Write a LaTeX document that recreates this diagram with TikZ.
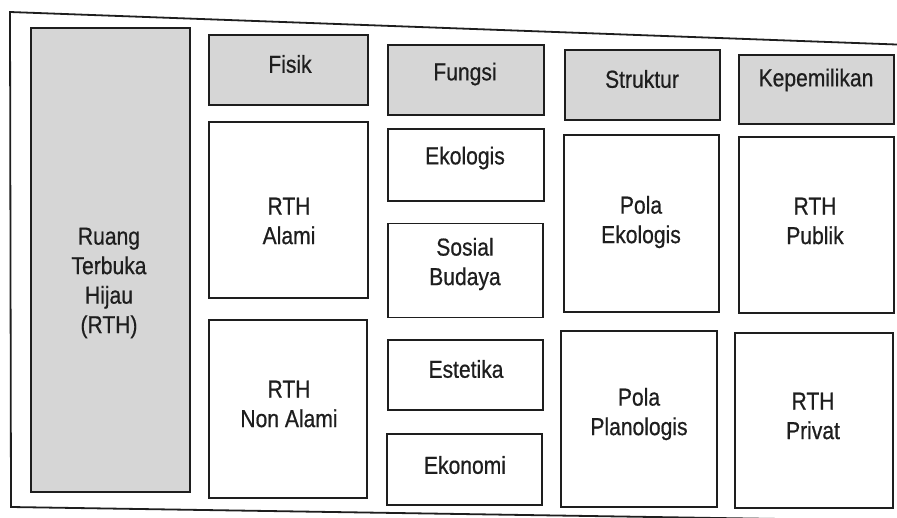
\documentclass[tikz,border=0pt]{standalone}
\usepackage{fontspec}
\setmainfont[FakeStretch=0.86,FakeBold=0.6]{Liberation Sans}
\definecolor{ink}{HTML}{1E1E1E}
\definecolor{hdrgray}{HTML}{D6D6D6}
\begin{document}
\begin{tikzpicture}[x=1pt,y=-1pt,
  frame/.style={draw=ink,line width=1.8pt},
  boxbase/.style={draw=ink,line width=1.8pt,inner sep=0pt,outer sep=0pt},
  hdr/.style={boxbase,fill=hdrgray},
  cell/.style={boxbase,fill=white},
  txt/.style={font=\fontsize{24.5}{29.5}\selectfont,text=ink,align=center,inner sep=0pt}]
\clip (0,0) rectangle (897,517);
\fill[white] (0,0) rectangle (897,517);
% outer frame (photographed slightly skewed)
\draw[frame] (10,12) -- (910,45) -- (910,521) -- (11,507) -- cycle;
% left column
\node[hdr, minimum width=159pt, minimum height=464pt] (rth) at (110.5,260) {};
\node[txt] (trth) at (109,283) {Ruang\\Terbuka\\Hijau\\(RTH)};
% Fisik
\node[hdr, minimum width=159pt, minimum height=70pt] (fisik) at (288.5,70) {};
\node[txt] (tfisik) at (290,64) {Fisik};
\node[cell, minimum width=159pt, minimum height=176pt] (alami) at (288.5,210) {};
\node[txt] (talami) at (289,221) {RTH\\Alami};
\node[cell, minimum width=158pt, minimum height=178pt] (nonalami) at (288,409) {};
\node[txt] (tnonalami) at (289,404) {RTH\\Non Alami};
% Fungsi
\node[hdr, minimum width=156pt, minimum height=70pt] (fungsi) at (466,80) {};
\node[txt] (tfungsi) at (465,74) {Fungsi};
\node[cell, minimum width=156pt, minimum height=72pt] (ekologis) at (466,165) {};
\node[txt] (tekologis) at (465,158) {Ekologis};
\node[cell, minimum width=155pt, minimum height=94pt] (sosial) at (465.5,270.5) {};
\node[txt] (tsosial) at (465,264) {Sosial\\Budaya};
\node[cell, minimum width=155pt, minimum height=70pt] (estetika) at (465.5,375) {};
\node[txt] (testetika) at (466,369) {Estetika};
\node[cell, minimum width=155pt, minimum height=71pt] (ekonomi) at (464.5,469.5) {};
\node[txt] (tekonomi) at (465,465) {Ekonomi};
% Struktur
\node[hdr, minimum width=155pt, minimum height=70pt] (struktur) at (642.5,85) {};
\node[txt] (tstruktur) at (642,79) {Struktur};
\node[cell, minimum width=155pt, minimum height=177pt] (polaeko) at (641.5,223.5) {};
\node[txt] (tpolaeko) at (641,222) {Pola\\Ekologis};
\node[cell, minimum width=156pt, minimum height=176pt] (polaplan) at (639,419) {};
\node[txt] (tpolaplan) at (639,414) {Pola\\Planologis};
% Kepemilikan
\node[hdr, minimum width=155pt, minimum height=69pt] (kepemilikan) at (816.5,89.5) {};
\node[txt] (tkepemilikan) at (816,80) {Kepemilikan};
\node[cell, minimum width=155pt, minimum height=176pt] (publik) at (816.5,225) {};
\node[txt] (tpublik) at (815,221) {RTH\\Publik};
\node[cell, minimum width=158pt, minimum height=175pt] (privat) at (814,420.5) {};
\node[txt] (tprivat) at (813,416) {RTH\\Privat};
\end{tikzpicture}
\end{document}
